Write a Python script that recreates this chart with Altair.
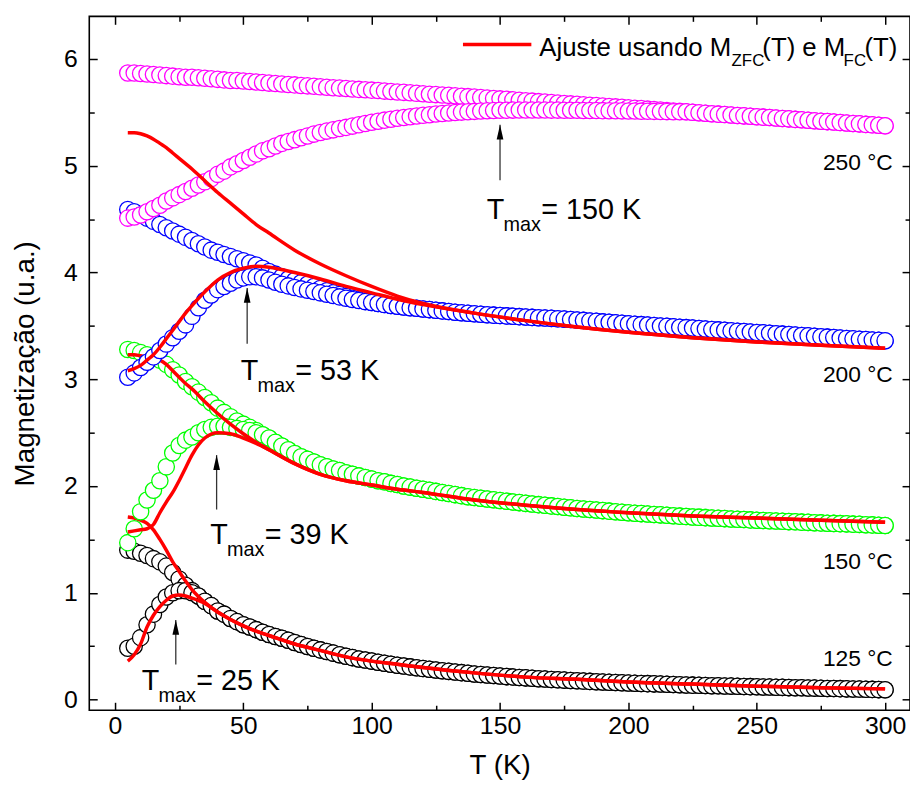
import altair as alt
import pandas as pd

FONT = "Liberation Sans, Arial, Helvetica, sans-serif"

# ---------------- data ----------------
T_LOW = [5, 7.5, 10, 12.5, 15, 17.5, 20, 22.5, 25, 27.5, 30, 32.5, 35, 37.5,
         40, 42.5, 45, 47.5, 50, 52.5, 55, 57.5, 60]
T_HIGH = [v / 2 for v in range(125, 601, 5)]          # 62.5 ... 300 K
T_DATA = T_LOW + T_HIGH

# 125 C (black)
BLACK_FC_LOW = [1.40, 1.39, 1.37, 1.35, 1.32, 1.29, 1.25, 1.19, 1.13, 1.07, 1.02, 0.97,
                0.92, 0.88, 0.83, 0.80, 0.76, 0.73, 0.70, 0.68, 0.655, 0.63, 0.61]
BLACK_ZFC_LOW = [0.48, 0.50, 0.58, 0.70, 0.80, 0.89, 0.96, 1.00, 1.02, 1.02, 1.00, 0.97,
                 0.92, 0.88, 0.83, 0.80, 0.76, 0.73, 0.70, 0.68, 0.655, 0.63, 0.61]
BLACK_TAIL = [0.59, 0.575, 0.555, 0.535, 0.515, 0.497, 0.48, 0.465, 0.45, 0.435,
              0.42, 0.405, 0.393, 0.38, 0.37, 0.36, 0.35, 0.34, 0.33, 0.322,
              0.314, 0.306, 0.298, 0.29, 0.284, 0.277, 0.27, 0.264, 0.258, 0.252,
              0.246, 0.24, 0.235, 0.23, 0.225, 0.22, 0.215, 0.211, 0.207, 0.203,
              0.199, 0.195, 0.192, 0.188, 0.185, 0.182, 0.179, 0.176, 0.173, 0.17,
              0.167, 0.165, 0.162, 0.16, 0.157, 0.155, 0.153, 0.151, 0.149, 0.147,
              0.145, 0.143, 0.141, 0.139, 0.137, 0.135, 0.134, 0.132, 0.13, 0.129,
              0.127, 0.126, 0.124, 0.123, 0.121, 0.12, 0.118, 0.117, 0.115, 0.114,
              0.112, 0.111, 0.11, 0.108, 0.107, 0.106, 0.104, 0.103, 0.102, 0.1,
              0.099, 0.098, 0.096, 0.095, 0.093, 0.092]

# 150 C (green)
GREEN_FC_LOW = [3.28, 3.27, 3.25, 3.23, 3.21, 3.18, 3.14, 3.09, 3.04, 2.98, 2.93, 2.88,
                2.83, 2.78, 2.73, 2.69, 2.65, 2.61, 2.58, 2.55, 2.52, 2.48, 2.45]
GREEN_ZFC_LOW = [1.47, 1.60, 1.76, 1.87, 1.96, 2.05, 2.18, 2.31, 2.38, 2.43, 2.46, 2.50,
                 2.53, 2.55, 2.56, 2.56, 2.55, 2.54, 2.53, 2.52, 2.50, 2.48, 2.45]
GREEN_TAIL = [2.41, 2.375, 2.34, 2.305, 2.275, 2.25, 2.225, 2.20, 2.18, 2.16,
              2.145, 2.125, 2.11, 2.095, 2.08, 2.065, 2.05, 2.04, 2.025, 2.015,
              2.00, 1.99, 1.98, 1.97, 1.96, 1.95, 1.94, 1.93, 1.92, 1.91,
              1.90, 1.893, 1.886, 1.879, 1.872, 1.865, 1.858, 1.851, 1.845, 1.838,
              1.832, 1.826, 1.82, 1.814, 1.808, 1.802, 1.796, 1.79, 1.785, 1.78,
              1.775, 1.77, 1.765, 1.76, 1.755, 1.75, 1.746, 1.742, 1.738, 1.734,
              1.73, 1.726, 1.722, 1.718, 1.714, 1.71, 1.707, 1.704, 1.701, 1.698,
              1.695, 1.692, 1.689, 1.686, 1.683, 1.68, 1.677, 1.675, 1.672, 1.67,
              1.667, 1.665, 1.662, 1.66, 1.657, 1.655, 1.652, 1.65, 1.648, 1.646,
              1.643, 1.641, 1.638, 1.636, 1.633, 1.63]

# 200 C (blue)
BLUE_FC_LOW = [4.59, 4.57, 4.54, 4.51, 4.48, 4.45, 4.42, 4.39, 4.36, 4.33, 4.30, 4.27,
               4.24, 4.21, 4.19, 4.17, 4.15, 4.13, 4.11, 4.09, 4.07, 4.04, 4.01]
BLUE_ZFC_LOW = [3.02, 3.06, 3.11, 3.16, 3.21, 3.27, 3.33, 3.39, 3.45, 3.51, 3.59, 3.67,
                3.74, 3.79, 3.84, 3.87, 3.90, 3.93, 3.95, 3.96, 3.96, 3.95, 3.93]
BLUE_FC_HIGH = [3.985, 3.96, 3.94, 3.925, 3.905, 3.89, 3.87, 3.85, 3.83, 3.81,
                3.795, 3.775, 3.76, 3.745, 3.73, 3.72, 3.71, 3.70, 3.692, 3.685,
                3.678, 3.671, 3.665, 3.659, 3.653, 3.647, 3.641, 3.635, 3.629, 3.624,
                3.619, 3.614, 3.609, 3.605, 3.601, 3.597, 3.594, 3.59, 3.587, 3.584,
                3.58, 3.577, 3.574, 3.571, 3.568, 3.564, 3.56, 3.556, 3.552, 3.547,
                3.543, 3.538, 3.534, 3.529, 3.525, 3.52, 3.516, 3.512, 3.508, 3.504,
                3.50, 3.496, 3.492, 3.488, 3.484, 3.48, 3.475, 3.471, 3.467, 3.463,
                3.459, 3.455, 3.451, 3.447, 3.443, 3.439, 3.435, 3.431, 3.427, 3.423,
                3.419, 3.415, 3.411, 3.407, 3.403, 3.399, 3.395, 3.391, 3.387, 3.383,
                3.38, 3.376, 3.372, 3.369, 3.365, 3.362]
# ZFC branch 62.5 ... 100 K, after which it coincides with the FC branch
BLUE_ZFC_MID = [3.91, 3.89, 3.875, 3.86, 3.847, 3.835, 3.822, 3.81, 3.797, 3.785,
                3.772, 3.76, 3.748, 3.738, 3.728, 3.72]

# 250 C (magenta)
MAG_FC_LOW = [5.87, 5.87, 5.865, 5.86, 5.855, 5.85, 5.845, 5.84, 5.835, 5.83, 5.83, 5.825,
              5.82, 5.815, 5.81, 5.805, 5.80, 5.80, 5.795, 5.79, 5.785, 5.78, 5.775]
MAG_ZFC_LOW = [4.51, 4.52, 4.54, 4.57, 4.60, 4.63, 4.67, 4.70, 4.73, 4.76, 4.79, 4.82,
               4.85, 4.88, 4.92, 4.95, 4.99, 5.02, 5.05, 5.08, 5.11, 5.14, 5.16]
MAG_FC_HIGH = [5.771, 5.767, 5.762, 5.758, 5.753, 5.749, 5.745, 5.74, 5.736, 5.732,
               5.728, 5.724, 5.72, 5.716, 5.713, 5.709, 5.705, 5.70, 5.696, 5.692,
               5.688, 5.684, 5.679, 5.675, 5.671, 5.667, 5.663, 5.66, 5.656, 5.652,
               5.648, 5.644, 5.64, 5.636, 5.631, 5.627, 5.623, 5.618, 5.614, 5.61,
               5.606, 5.601, 5.597, 5.593, 5.588, 5.584, 5.58, 5.576, 5.572, 5.568,
               5.564, 5.56, 5.556, 5.552, 5.548, 5.544, 5.54, 5.536, 5.531, 5.527,
               5.523, 5.518, 5.514, 5.51, 5.506, 5.501, 5.497, 5.493, 5.488, 5.484,
               5.48, 5.476, 5.472, 5.468, 5.464, 5.46, 5.456, 5.452, 5.448, 5.444,
               5.44, 5.435, 5.431, 5.427, 5.422, 5.418, 5.414, 5.41, 5.405, 5.401,
               5.397, 5.393, 5.388, 5.384, 5.38, 5.375]
# ZFC branch 62.5 ... 220 K, after which it coincides with the FC branch
MAG_ZFC_MID = [5.185, 5.21, 5.228, 5.245, 5.263, 5.28, 5.297, 5.312, 5.325, 5.337,
               5.349, 5.36, 5.372, 5.384, 5.396, 5.408, 5.418, 5.428, 5.437, 5.445,
               5.452, 5.459, 5.466, 5.473, 5.479, 5.485, 5.49, 5.495, 5.499, 5.503,
               5.507, 5.51, 5.513, 5.516, 5.518, 5.52, 5.521, 5.522, 5.523, 5.523,
               5.523, 5.523, 5.523, 5.522, 5.522, 5.521, 5.521, 5.52, 5.519, 5.518,
               5.518, 5.517, 5.516, 5.516, 5.515, 5.514, 5.513, 5.512, 5.511, 5.51,
               5.509, 5.508, 5.507, 5.506]

# fitted curves (red)
T_FIT = [5, 7.5, 10, 12.5, 15, 17.5, 20, 22.5, 25, 27.5, 30, 35, 40, 45, 50, 55, 60,
         70, 80, 90, 100, 110, 120, 140, 160, 180, 200, 225, 250, 275, 300]
FIT_BLACK_FC = [1.71, 1.70, 1.68, 1.65, 1.59, 1.50, 1.40, 1.29, 1.20, 1.11, 1.03, 0.91,
                0.82, 0.75, 0.69, 0.64, 0.60, 0.52, 0.46, 0.40, 0.36, 0.33, 0.30, 0.25,
                0.21, 0.19, 0.165, 0.145, 0.125, 0.11, 0.10]
FIT_BLACK_ZFC = [0.36, 0.42, 0.52, 0.68, 0.79, 0.87, 0.93, 0.97, 0.98, 0.97, 0.95, 0.90,
                 0.82, 0.75, 0.69, 0.64, 0.60, 0.52, 0.46, 0.40, 0.36, 0.33, 0.30, 0.25,
                 0.21, 0.19, 0.165, 0.145, 0.125, 0.11, 0.10]
FIT_GREEN_FC = [3.23, 3.23, 3.22, 3.21, 3.20, 3.18, 3.14, 3.08, 3.02, 2.96, 2.91, 2.79,
                2.68, 2.58, 2.49, 2.41, 2.34, 2.21, 2.11, 2.05, 2.01, 1.97, 1.94, 1.87,
                1.82, 1.78, 1.75, 1.72, 1.70, 1.68, 1.66]
FIT_GREEN_ZFC = [1.57, 1.58, 1.59, 1.60, 1.64, 1.75, 1.85, 1.94, 2.05, 2.17, 2.29, 2.45,
                 2.50, 2.49, 2.45, 2.40, 2.34, 2.21, 2.11, 2.05, 2.01, 1.97, 1.94, 1.87,
                 1.82, 1.78, 1.75, 1.72, 1.70, 1.68, 1.66]
FIT_BLUE_FC = [5.31, 5.31, 5.30, 5.28, 5.25, 5.21, 5.17, 5.12, 5.07, 5.02, 4.97, 4.86,
               4.75, 4.65, 4.55, 4.45, 4.37, 4.21, 4.08, 3.97, 3.87, 3.78, 3.71, 3.62,
               3.55, 3.49, 3.44, 3.39, 3.35, 3.32, 3.29]
FIT_BLUE_ZFC = [3.08, 3.10, 3.13, 3.18, 3.23, 3.30, 3.38, 3.46, 3.54, 3.62, 3.69, 3.82,
                3.93, 4.00, 4.04, 4.06, 4.05, 4.00, 3.94, 3.87, 3.81, 3.75, 3.70, 3.62,
                3.55, 3.49, 3.44, 3.39, 3.35, 3.32, 3.29]

# annotations
TMAX_TEXT = ["= 150 K", "= 53 K", "= 39 K", "= 25 K"]
TMAX_LABEL_T = [144.8, 49.0, 37.1, 10.4]
TMAX_LABEL_M = [4.503, 2.990, 1.458, 0.093]
ARROW_T = [150, 51.5, 39.6, 23.7]
ARROW_TAIL = [4.865, 3.333, 1.78, 0.328]
ARROW_TIP = [5.385, 3.856, 2.29, 0.746]
TEMP_TEXT = ["250 °C", "200 °C", "150 °C", "125 °C"]
TEMP_T = [303, 303, 303, 303]
TEMP_M = [4.958, 2.974, 1.226, 0.313]

X_MAJOR = [0, 50, 100, 150, 200, 250, 300]
X_MINOR = [25, 75, 125, 175, 225, 275]
Y_MAJOR = [0, 1, 2, 3, 4, 5, 6]
Y_MINOR = [0.5, 1.5, 2.5, 3.5, 4.5, 5.5]

BLUE_ZFC_HIGH = BLUE_ZFC_MID + BLUE_FC_HIGH[len(BLUE_ZFC_MID):]
MAG_ZFC_HIGH = MAG_ZFC_MID + MAG_FC_HIGH[len(MAG_ZFC_MID):]

for arr in [BLACK_TAIL, GREEN_TAIL, BLUE_FC_HIGH, BLUE_ZFC_HIGH, MAG_FC_HIGH, MAG_ZFC_HIGH]:
    assert len(arr) == len(T_HIGH), len(arr)
for arr in [BLACK_FC_LOW, BLACK_ZFC_LOW, GREEN_FC_LOW, GREEN_ZFC_LOW, BLUE_FC_LOW,
            BLUE_ZFC_LOW, MAG_FC_LOW, MAG_ZFC_LOW]:
    assert len(arr) == len(T_LOW), len(arr)
for arr in [FIT_BLACK_FC, FIT_BLACK_ZFC, FIT_GREEN_FC, FIT_GREEN_ZFC, FIT_BLUE_FC, FIT_BLUE_ZFC]:
    assert len(arr) == len(T_FIT), len(arr)

# ---------------- chart ----------------
XS = alt.Scale(domain=[-10, 309.7], nice=False, zero=False)
YS = alt.Scale(domain=[-0.1, 6.4], nice=False, zero=False)
W, H = 828, 700


def curve_df(fc, zfc):
    a = pd.DataFrame({"T": T_DATA, "M": fc, "curve": "FC"})
    b = pd.DataFrame({"T": T_DATA, "M": zfc, "curve": "ZFC"})
    return pd.concat([a, b], ignore_index=True)


def fit_df(fc, zfc):
    a = pd.DataFrame({"T": T_FIT, "M": fc, "curve": "FC"})
    b = pd.DataFrame({"T": T_FIT, "M": zfc, "curve": "ZFC"})
    return pd.concat([a, b], ignore_index=True)


def circles(df, color):
    return alt.Chart(df).mark_circle(
        size=270, fill="white", fillOpacity=1, stroke=color, strokeWidth=1.3, opacity=1
    ).encode(
        x=alt.X("T:Q", scale=XS, axis=None),
        y=alt.Y("M:Q", scale=YS, axis=None),
    )


def fits(df):
    return alt.Chart(df).mark_line(
        color="#FF0000", strokeWidth=3.5, interpolate="monotone"
    ).encode(
        x=alt.X("T:Q", scale=XS, axis=None),
        y=alt.Y("M:Q", scale=YS, axis=None),
        detail="curve:N",
        order="T:Q",
    )


black_c = circles(curve_df(BLACK_FC_LOW + BLACK_TAIL, BLACK_ZFC_LOW + BLACK_TAIL), "#000000")
green_c = circles(curve_df(GREEN_FC_LOW + GREEN_TAIL, GREEN_ZFC_LOW + GREEN_TAIL), "#00FF00")
blue_c = circles(curve_df(BLUE_FC_LOW + BLUE_FC_HIGH, BLUE_ZFC_LOW + BLUE_ZFC_HIGH), "#0000FF")
mag_c = circles(curve_df(MAG_FC_LOW + MAG_FC_HIGH, MAG_ZFC_LOW + MAG_ZFC_HIGH), "#FF00FF")
black_f = fits(fit_df(FIT_BLACK_FC, FIT_BLACK_ZFC))
green_f = fits(fit_df(FIT_GREEN_FC, FIT_GREEN_ZFC))
blue_f = fits(fit_df(FIT_BLUE_FC, FIT_BLUE_ZFC))

arrow_df = pd.DataFrame({"T": ARROW_T, "tail": ARROW_TAIL, "tip": ARROW_TIP})
arrow_line = alt.Chart(arrow_df).mark_rule(color="#333333", strokeWidth=1.3).encode(
    x=alt.X("T:Q", scale=XS, axis=None),
    y=alt.Y("tail:Q", scale=YS, axis=None),
    y2="tip:Q",
)
arrow_head = alt.Chart(arrow_df).mark_point(
    shape="M0,-1L0.45,1L-0.45,1Z", filled=True, color="#000000", size=225, opacity=1, yOffset=7.5
).encode(
    x=alt.X("T:Q", scale=XS, axis=None),
    y=alt.Y("tip:Q", scale=YS, axis=None),
)

ann_df = pd.DataFrame({"T": TMAX_LABEL_T, "M": TMAX_LABEL_M, "label": TMAX_TEXT})
ann_enc = dict(x=alt.X("T:Q", scale=XS, axis=None), y=alt.Y("M:Q", scale=YS, axis=None))
ann_T = alt.Chart(ann_df).mark_text(
    text="T", font=FONT, fontSize=29, align="left", baseline="alphabetic", color="black"
).encode(**ann_enc)
ann_max = alt.Chart(ann_df).mark_text(
    text="max", font=FONT, fontSize=20, align="left", baseline="alphabetic", color="black",
    dx=17, dy=12
).encode(**ann_enc)
ann_rest = alt.Chart(ann_df).mark_text(
    font=FONT, fontSize=29, align="left", baseline="alphabetic", color="black", dx=55
).encode(text="label:N", **ann_enc)

temp_df = pd.DataFrame({"T": TEMP_T, "M": TEMP_M, "label": TEMP_TEXT})
temp_txt = alt.Chart(temp_df).mark_text(
    font=FONT, fontSize=23, align="right", baseline="alphabetic", color="black"
).encode(
    x=alt.X("T:Q", scale=XS, axis=None),
    y=alt.Y("M:Q", scale=YS, axis=None),
    text="label:N",
)

# legend (pixel layout inside the plot area)
one = pd.DataFrame({"a": [0]})
legend_line = alt.Chart(one).mark_rule(color="#FF0000", strokeWidth=3.5).encode(
    x=alt.value(377), x2=alt.value(446), y=alt.value(28.3)
)
LEGEND_PIECES = [
    ("Ajuste usando M", 454, 40, 26),
    ("ZFC", 648, 50.5, 17),
    ("(T) e M", 679, 40, 26),
    ("FC", 761, 50.5, 17),
    ("(T)", 782, 40, 26),
]
legend_txt = [
    alt.Chart(one).mark_text(
        text=t, font=FONT, fontSize=fs, align="left", baseline="alphabetic", color="black"
    ).encode(x=alt.value(px), y=alt.value(py))
    for t, px, py, fs in LEGEND_PIECES
]

# axes (ticks pointing inward, on all four sides)
common = dict(
    domain=False, grid=False, tickColor="black", tickWidth=1.5,
    labelFont=FONT, labelColor="black", labelFontSize=25, labelFlush=False,
    labelOverlap=False, titleFont=FONT, titleColor="black", titleFontSize=28,
    titleFontWeight="normal",
)
ax_src = pd.DataFrame({"T": [0], "M": [0]})


def axis_layer(xaxis, yaxis):
    return alt.Chart(ax_src).mark_point(opacity=0).encode(
        x=alt.X("T:Q", scale=XS, axis=xaxis),
        y=alt.Y("M:Q", scale=YS, axis=yaxis),
    )


ax1 = axis_layer(
    alt.Axis(orient="bottom", values=X_MAJOR, tickSize=8, offset=-8, labelPadding=3,
             title="T (K)", titlePadding=14, format="d", **common),
    alt.Axis(orient="left", values=Y_MAJOR, tickSize=8, offset=-8, labelPadding=12,
             title="Magnetização (u.a.)", titlePadding=24, format="d", **common),
)
ax2 = axis_layer(
    alt.Axis(orient="bottom", values=X_MINOR, tickSize=5, offset=-5, labels=False,
             title=None, **common),
    alt.Axis(orient="left", values=Y_MINOR, tickSize=5, offset=-5, labels=False,
             title=None, **common),
)
ax3 = axis_layer(
    alt.Axis(orient="top", values=X_MAJOR, tickSize=8, offset=-8, labels=False,
             title=None, **common),
    alt.Axis(orient="right", values=Y_MAJOR, tickSize=8, offset=-8, labels=False,
             title=None, **common),
)
ax4 = axis_layer(
    alt.Axis(orient="top", values=X_MINOR, tickSize=5, offset=-5, labels=False,
             title=None, **common),
    alt.Axis(orient="right", values=Y_MINOR, tickSize=5, offset=-5, labels=False,
             title=None, **common),
)

chart = alt.layer(
    ax1, ax2, ax3, ax4,
    black_c, black_f, green_c, green_f, blue_c, mag_c, blue_f,
    arrow_line, arrow_head, ann_T, ann_max, ann_rest, temp_txt,
    legend_line, *legend_txt,
).resolve_axis(
    x="independent", y="independent"
).properties(
    width=W, height=H,
    autosize=alt.AutoSizeParams(type="none"),
    padding={"left": 82, "top": 5, "right": 0, "bottom": 72},
    background="white",
).configure_view(
    stroke="black", strokeWidth=1.6
)

chart.save("out.html", embed_options={"renderer": "svg", "actions": False})
